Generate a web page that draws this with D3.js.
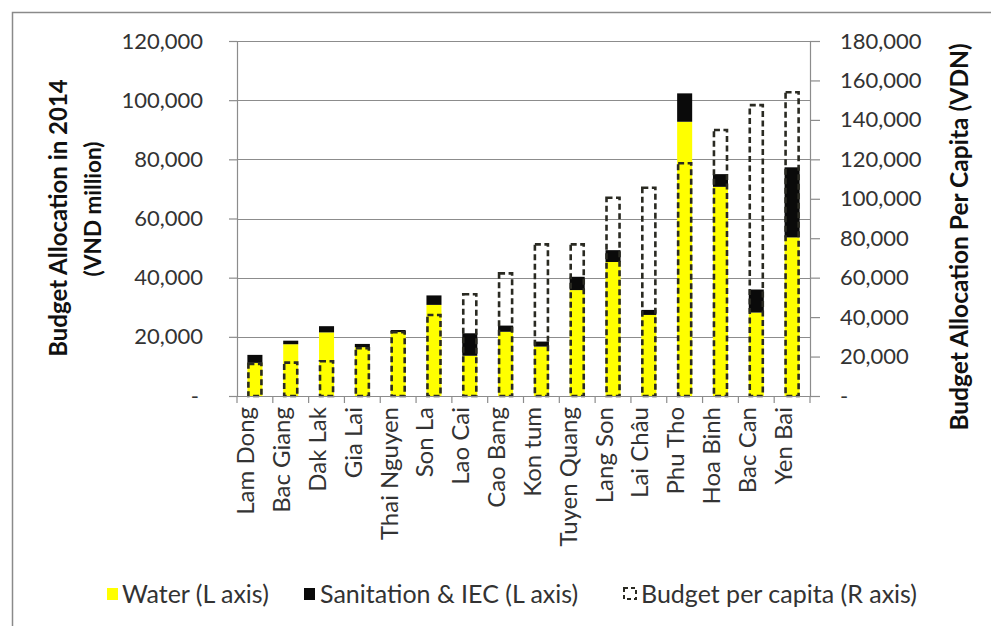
<!DOCTYPE html>
<html>
<head>
<meta charset="utf-8">
<script src="https://cdn.jsdelivr.net/npm/d3@7"></script>
<style>
  html, body { margin: 0; padding: 0; background: #fff; }
  svg { display: block; font-family: Lato, "Open Sans", sans-serif; }
</style>
</head>
<body>
<svg id="chart" width="991" height="626"></svg>
<script>
// Provinces, ordered by budget per capita
const categories = ["Lam Dong", "Bac Giang", "Dak Lak", "Gia Lai", "Thai Nguyen", "Son La",
  "Lao Cai", "Cao Bang", "Kon tum", "Tuyen Quang", "Lang Son", "Lai Châu",
  "Phu Tho", "Hoa Binh", "Bac Can", "Yen Bai"];

// Budget allocation in 2014 (VND million), left axis
const water = [11200, 17500, 21500, 16500, 21600, 30800, 13600, 21700,
  16700, 35800, 45300, 27400, 92700, 70700, 28200, 53600];
const sanitation = [2700, 1200, 2100, 1100, 700, 3200, 7600, 2100,
  1700, 4500, 4000, 1700, 9600, 4300, 7800, 23700];

// Budget per capita (VND), right axis
const perCapita = [16300, 16900, 17600, 24200, 32300, 41100, 51600, 62200,
  76900, 76900, 100500, 105600, 118000, 134900, 147500, 154000];

const leftTicks = [0, 20000, 40000, 60000, 80000, 100000, 120000];
const rightTicks = [0, 20000, 40000, 60000, 80000, 100000, 120000, 140000, 160000, 180000];

const seriesNames = ["Water (L axis)", "Sanitation & IEC (L axis)", "Budget per capita (R axis)"];

const svg = d3.select("#chart");
const plot = { left: 237, right: 810, top: 41, bottom: 396 };

const rows = categories.map((c, i) => ({ name: c, water: water[i], sanitation: sanitation[i], perCapita: perCapita[i] }));

const x = d3.scaleBand().domain(categories).range([plot.left, plot.right])
  .paddingInner(0.58).paddingOuter(0.29);
const yL = d3.scaleLinear().domain([0, 120000]).range([plot.bottom, plot.top]);
const yR = d3.scaleLinear().domain([0, 180000]).range([plot.bottom, plot.top]);

const fmt = d => d === 0 ? "-" : d3.format(",")(d);
const axisColor = "#8c8c8c";
const textColor = "#333";

// outer chart frame
svg.append("rect").attr("x", 12.5).attr("y", 12.5).attr("width", 1000).attr("height", 700)
  .attr("fill", "none").attr("stroke", "#8a8a8a").attr("stroke-width", 1.5);

// horizontal gridlines at left-axis ticks
svg.append("g").selectAll("line").data(leftTicks.filter(d => d > 0)).join("line")
  .attr("x1", plot.left).attr("x2", plot.right)
  .attr("y1", d => Math.round(yL(d)) + 0.5).attr("y2", d => Math.round(yL(d)) + 0.5)
  .attr("stroke", axisColor).attr("stroke-width", 1.2);

// stacked bars: water + sanitation
const stack = d3.stack().keys(["water", "sanitation"])(rows);
const colors = { water: "#ffff00", sanitation: "#0a0a0a" };
svg.append("g").selectAll("g").data(stack).join("g")
  .attr("fill", s => colors[s.key])
  .selectAll("rect").data(s => s).join("rect")
  .attr("x", d => x(d.data.name))
  .attr("width", x.bandwidth())
  .attr("y", d => yL(d[1]))
  .attr("height", d => yL(d[0]) - yL(d[1]));

// per-capita budget: dashed outline bars on right axis
svg.append("g").selectAll("rect").data(rows).join("rect")
  .attr("x", d => x(d.name) + 1)
  .attr("width", x.bandwidth() - 2)
  .attr("y", d => yR(d.perCapita))
  .attr("height", d => yR(0) - yR(d.perCapita))
  .attr("fill", "none").attr("stroke", "#2a2a22")
  .attr("stroke-width", 2.6).attr("stroke-dasharray", "6,3.5");

// left axis
const gL = svg.append("g").attr("transform", `translate(${plot.left},0)`)
  .call(d3.axisLeft(yL).tickValues(leftTicks).tickFormat(fmt).tickSize(8).tickPadding(26));
gL.select(".domain").attr("stroke", axisColor).attr("stroke-width", 1.2);
gL.selectAll(".tick line").attr("stroke", axisColor).attr("stroke-width", 1.2);
gL.selectAll(".tick text").attr("font-size", 22).attr("fill", textColor)
  .attr("font-family", "Lato, sans-serif")
  .attr("dx", d => d === 0 ? -4 : 0);

// right axis
const gR = svg.append("g").attr("transform", `translate(${plot.right},0)`)
  .call(d3.axisRight(yR).tickValues(rightTicks).tickFormat(fmt).tickSize(10).tickPadding(20));
gR.select(".domain").attr("stroke", axisColor).attr("stroke-width", 1.2);
gR.selectAll(".tick line").attr("stroke", axisColor).attr("stroke-width", 1.2);
gR.selectAll(".tick text").attr("font-size", 22).attr("fill", textColor)
  .attr("font-family", "Lato, sans-serif");

// category axis: baseline, boundary ticks and rotated labels
const gX = svg.append("g");
gX.append("line").attr("x1", plot.left).attr("x2", plot.right)
  .attr("y1", plot.bottom + 0.5).attr("y2", plot.bottom + 0.5)
  .attr("stroke", axisColor).attr("stroke-width", 1.2);
gX.selectAll("line.tk").data(d3.range(categories.length + 1)).join("line")
  .attr("class", "tk")
  .attr("x1", i => plot.left + i * x.step()).attr("x2", i => plot.left + i * x.step())
  .attr("y1", plot.bottom).attr("y2", plot.bottom + 7)
  .attr("stroke", axisColor).attr("stroke-width", 1.2);
gX.selectAll("text").data(categories).join("text")
  .attr("transform", d => `translate(${x(d) + x.bandwidth() / 2 - 0.5},${plot.bottom + 11}) rotate(-90)`)
  .attr("text-anchor", "end")
  .attr("font-size", 24).attr("fill", textColor)
  .text(d => d);

// axis titles
svg.append("text")
  .attr("transform", "translate(67,218) rotate(-90)")
  .attr("text-anchor", "middle").attr("font-weight", "bold").attr("font-size", 24).attr("fill", "#111")
  .text("Budget Allocation in 2014");
svg.append("text")
  .attr("transform", "translate(101,209) rotate(-90)")
  .attr("text-anchor", "middle").attr("font-weight", "bold").attr("font-size", 22.5).attr("fill", "#111")
  .text("(VND million)");
svg.append("text")
  .attr("transform", "translate(968,237) rotate(-90)")
  .attr("text-anchor", "middle").attr("font-weight", "bold").attr("font-size", 24.5).attr("fill", "#111")
  .text("Budget Allocation Per Capita (VDN)");

// legend
const legendY = 594;
const legend = svg.append("g");
const items = [
  { x: 107, tx: 122, label: seriesNames[0], kind: "water" },
  { x: 304, tx: 320, label: seriesNames[1], kind: "sanitation" },
  { x: 623, tx: 641, label: seriesNames[2], kind: "perCapita" }
];
items.forEach(it => {
  if (it.kind === "perCapita") {
    legend.append("rect").attr("x", it.x + 1).attr("y", legendY - 6).attr("width", 12).attr("height", 11)
      .attr("fill", "none").attr("stroke", "#2a2a22").attr("stroke-width", 2).attr("stroke-dasharray", "4,3");
  } else {
    legend.append("rect").attr("x", it.x).attr("y", legendY - 6).attr("width", 11).attr("height", 12)
      .attr("fill", colors[it.kind]);
  }
  legend.append("text").attr("x", it.tx).attr("y", legendY).attr("dy", "0.35em")
    .attr("font-size", 25).attr("fill", textColor).text(it.label);
});
</script>
</body>
</html>
